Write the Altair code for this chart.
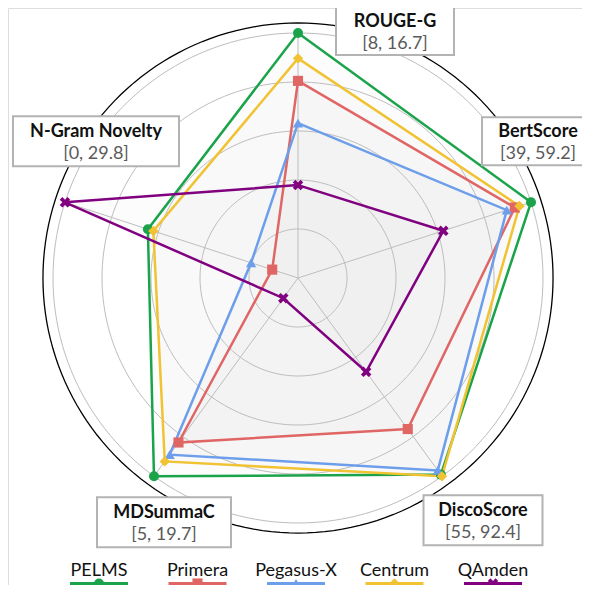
import altair as alt
import pandas as pd

# ---------------- data ----------------
axes = ["ROUGE-G", "BertScore", "DiscoScore", "MDSummaC", "N-Gram Novelty"]
axis_min = [8, 39, 55, 5, 0]
axis_max = [16.7, 59.2, 92.4, 19.7, 29.8]
range_text = ["[8, 16.7]", "[39, 59.2]", "[55, 92.4]", "[5, 19.7]", "[0, 29.8]"]

series = ["PELMS", "Primera", "Pegasus-X", "Centrum", "QAmden"]
pelms = [16.7, 59.2, 92.1, 19.7, 19.2]
primera = [15.0, 57.8, 83.5, 17.2, 3.3]
pegasus_x = [13.5, 57.1, 91.3, 18.1, 6.0]
centrum = [15.8, 58.2, 92.4, 18.6, 18.5]
qamden = [11.3, 51.6, 72.7, 6.5, 29.8]
values = [pelms, primera, pegasus_x, centrum, qamden]

# ---------------- styles / layout ----------------
colors = ["#1ba34b", "#e06666", "#6d9eeb", "#f1c232", "#800080"]
X_PATH = "M-1,-0.5L-0.5,-1L0,-0.5L0.5,-1L1,-0.5L0.5,0L1,0.5L0.5,1L0,0.5L-0.5,1L-1,0.5L-0.5,0Z"
shapes = ["circle", "square", "triangle-up", "diamond", X_PATH]
sizes = [100, 110, 140, 190, 110]
ring_levels = [0.2, 0.4, 0.6, 0.8, 1.0]
outer_level = 1.041
label_dx = [97, 7, 41, 10, 31]
label_dy = [-2, -61, 44, 46, -61]
box_w = [118, 112, 119, 134, 166]
box_h = [48, 48, 50, 50, 50]

W, H = 574, 577
CX, CY, RPX = 290, 270, 245
xs = alt.Scale(domain=[-CX / RPX, (W - CX) / RPX], nice=False, zero=False)
ys = alt.Scale(domain=[-(H - CY) / RPX, CY / RPX], nice=False, zero=False)
angles = [90 - 72 * i for i in range(5)]

# ---------------- tables ----------------
rows = []
for s, vals in zip(series, values):
    for k in range(6):
        j = k % 5
        r = (vals[j] - axis_min[j]) / (axis_max[j] - axis_min[j])
        rows.append({"series": s, "axis": axes[j], "value": vals[j],
                     "r": r, "angle": angles[j], "k": k})
df = pd.DataFrame(rows)

ring_rows = []
for lv in ring_levels + [outer_level]:
    for d in range(0, 361, 2):
        ring_rows.append({"level": lv, "deg": d, "outer": lv > 1})
rings = pd.DataFrame(ring_rows)

spokes = pd.DataFrame({"axis": axes, "angle": angles})

labels = pd.DataFrame({
    "axis": axes, "rng": range_text, "angle": angles,
    "dx": label_dx, "dy": label_dy,
    "box": [f"M{-w/2},{-h/2}H{w/2}V{h/2}H{-w/2}Z" for w, h in zip(box_w, box_h)],
})

legend_df = pd.DataFrame({"series": series})

color_enc = alt.Color("series:N", scale=alt.Scale(domain=series, range=colors), legend=None)
shape_enc = alt.Shape("series:N", scale=alt.Scale(domain=series, range=shapes), legend=None)
size_enc = alt.Size("series:N", scale=alt.Scale(domain=series, range=sizes), legend=None)

X = alt.X("x:Q", scale=xs, axis=None)
Y = alt.Y("y:Q", scale=ys, axis=None)

ring_layer = alt.Chart(rings).transform_filter("!datum.outer").transform_calculate(
    x="datum.level*cos(datum.deg*PI/180)", y="datum.level*sin(datum.deg*PI/180)"
).mark_line(color="#bdbdbd", strokeWidth=1).encode(x=X, y=Y, detail="level:N", order="deg:Q")

outer_layer = alt.Chart(rings).transform_filter("datum.outer").transform_calculate(
    x="datum.level*cos(datum.deg*PI/180)", y="datum.level*sin(datum.deg*PI/180)"
).mark_line(color="#000000", strokeWidth=1.3).encode(x=X, y=Y, detail="level:N", order="deg:Q")

spoke_layer = alt.Chart(spokes).transform_calculate(
    x0="0", y0="0", x1="cos(datum.angle*PI/180)", y1="sin(datum.angle*PI/180)"
).mark_rule(color="#bdbdbd", strokeWidth=1).encode(
    x=alt.X("x0:Q", scale=xs, axis=None), y=alt.Y("y0:Q", scale=ys, axis=None),
    x2="x1:Q", y2="y1:Q")

pos = alt.Chart(df).transform_calculate(
    x="datum.r*cos(datum.angle*PI/180)", y="datum.r*sin(datum.angle*PI/180)")

fill_layer = pos.mark_line(fill="#000000", fillOpacity=0.011, strokeOpacity=0).encode(
    x=X, y=Y, detail="series:N", order="k:Q")

line_layer = pos.mark_line(strokeWidth=2.5).encode(
    x=X, y=Y, color=color_enc, detail="series:N", order="k:Q")

point_layer = pos.transform_filter("datum.k < 5").mark_point(filled=True, opacity=1).encode(
    x=X, y=Y, color=color_enc, shape=shape_enc, size=size_enc)

lab = alt.Chart(labels).transform_calculate(
    x=f"cos(datum.angle*PI/180) + datum.dx/{RPX}",
    y=f"sin(datum.angle*PI/180) - datum.dy/{RPX}")

box_layer = lab.mark_point(filled=True, fill="white", stroke="#b3b3b3", strokeWidth=2,
                           opacity=1, size=4).encode(
    x=X, y=Y, shape=alt.Shape("box:N", scale=None))

title_layer = lab.mark_text(font="Lato", fontSize=18, fontWeight="bold", color="#111111",
                            align="center", baseline="alphabetic", dy=-4.5).encode(
    x=X, y=Y, text="axis:N")

range_layer = lab.mark_text(font="Lato", fontSize=18, color="#5a5a5a",
                            align="center", baseline="alphabetic", dy=18).encode(
    x=X, y=Y, text="rng:N")

LX = alt.X("series:N", scale=alt.Scale(domain=series, range=[41.75, 534.25]), axis=None)

leg_text = alt.Chart(legend_df).mark_text(font="Lato", fontSize=18, color="#111111",
                                          align="center", baseline="alphabetic").encode(
    x=LX, y=alt.value(568), text="series:N")

leg_line = alt.Chart(legend_df).mark_point(shape="M-1,0L1,0", size=3364, filled=False,
                                           strokeWidth=3, opacity=1).encode(
    x=LX, y=alt.value(575.5), color=color_enc)

leg_mark = alt.Chart(legend_df).mark_point(filled=True, opacity=1).encode(
    x=LX, y=alt.value(575.5), color=color_enc, shape=shape_enc, size=size_enc)

chart = alt.layer(
    fill_layer, ring_layer, spoke_layer, outer_layer, line_layer, point_layer,
    box_layer, title_layer, range_layer, leg_text, leg_line, leg_mark
).resolve_scale(x="independent").properties(
    width=W, height=H, padding=0, autosize=alt.AutoSizeParams(type="none")
).configure_view(stroke=None).configure(font="Lato")

chart.save("out.html", embed_options={"renderer": "svg", "actions": False})
